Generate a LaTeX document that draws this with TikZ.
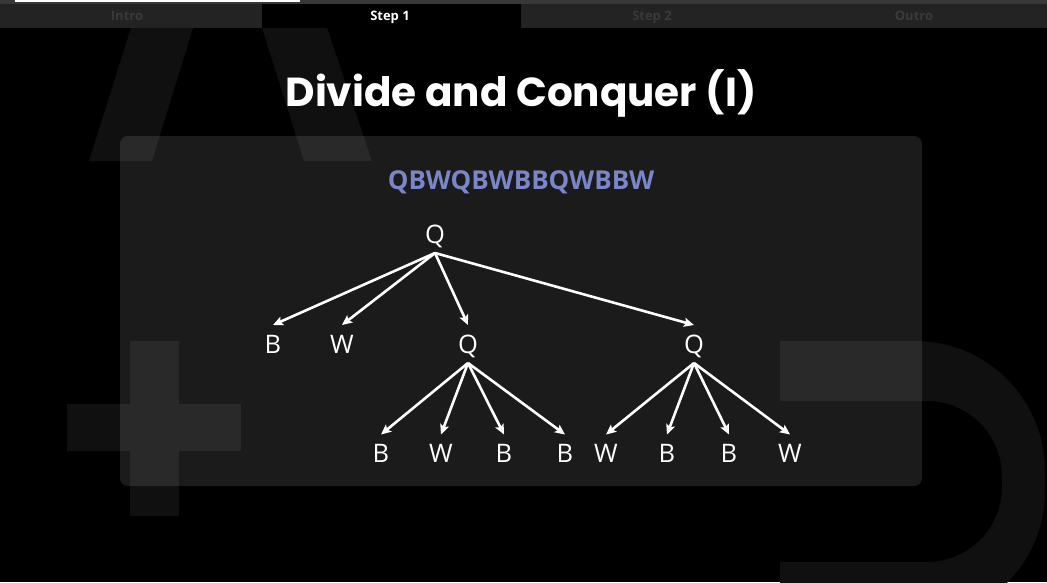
\documentclass[tikz,border=0pt]{standalone}
\usepackage{fontspec}
\setmainfont{Open Sans}
\newfontfamily\titlefont{Poppins}
\usetikzlibrary{arrows.meta}

\definecolor{glyphgray}{HTML}{101010}
\definecolor{tabgray}{HTML}{232323}
\definecolor{tabtext}{HTML}{3A3A3A}
\definecolor{lineGray}{HTML}{383838}
\definecolor{seqblue}{HTML}{7A86C8}

\tikzset{
  glyph/.style={fill=glyphgray, draw=none},
  tablabel/.style={anchor=base, font=\fontsize{13}{13}\selectfont\bfseries, text=tabtext},
  leaf/.style={font=\fontsize{25.5}{25.5}\selectfont, text=white, text height=18pt,
               text depth=0pt, inner sep=0pt, outer ysep=10pt},
  edge/.style={draw=white, line width=2.6pt,
               -{Stealth[length=10pt, width=9pt, inset=2pt]}},
}

\begin{document}
\begin{tikzpicture}[x=1pt, y=-1pt, every node/.style={inner sep=0pt}]
\useasboundingbox (0,0) rectangle (1047,582);
\fill[black] (0,0) rectangle (1047,582);

% faint backdrop letterforms
\fill[glyph] (131,28) -- (193,28) -- (152,161) -- (89,161) -- cycle;
\fill[glyph] (262,28) -- (327,28) -- (372,161) -- (304,161) -- cycle;
\fill[glyph] (130,341) rectangle (179,516);
\fill[glyph] (67,404) rectangle (130,451);
\fill[glyph] (179,404) rectangle (241,451);
\begin{scope}
  \clip (780,0) rectangle (1047,582);
  \fill[glyph, even odd rule]
    [rounded corners=130pt] (600,341) rectangle (1045,621)
    [rounded corners=75pt] (600,401) rectangle (1002,562);
\end{scope}

% translucent content panel
\fill[white, fill opacity=0.105, rounded corners=8pt] (120,136) rectangle (922,486);

% tab bar
\fill[tabgray] (0,4) rectangle (1047,28);
\fill[black] (262,4) rectangle (521,28);
\fill[lineGray] (0,0) rectangle (1047,3.5);
\fill[white] (15,0) rectangle (300,2);
\node[tablabel] (tab1) at (127,20.5) {Intro};
\node[tablabel, text=white] (tab2) at (390,20.5) {Step 1};
\node[tablabel] (tab3) at (652,20.5) {Step 2};
\node[tablabel] (tab4) at (914,20.5) {Outro};

% heading and input string
\node[anchor=base, text=white, font=\titlefont\bfseries\fontsize{40.5}{40.5}\selectfont]
  (title) at (521,106.5) {Divide and Conquer (I)};
\node[anchor=base, text=seqblue, font=\fontsize{26}{26}\selectfont\bfseries]
  (seq) at (521,189) {QBWQBWBBQWBBW};

% quadtree
\node[leaf] (q0) at (435,234) {Q};

\node[leaf] (b1) at (273,344) {B};
\node[leaf] (w1) at (342,344) {W};
\node[leaf] (q1) at (468,344) {Q};
\node[leaf] (q2) at (694,344) {Q};

\node[leaf] (b11) at (381,453.5) {B};
\node[leaf] (w12) at (441,453.5) {W};
\node[leaf] (b13) at (504,453.5) {B};
\node[leaf] (b14) at (565,453.5) {B};
\node[leaf] (w21) at (606,453.5) {W};
\node[leaf] (b22) at (667,453.5) {B};
\node[leaf] (b23) at (729,453.5) {B};
\node[leaf] (w24) at (790,453.5) {W};

\foreach \c in {b1,w1,q1,q2}
  \draw[edge] (q0.south) -- (\c.north);
\foreach \c in {b11,w12,b13,b14}
  \draw[edge] (q1.south) -- (\c.north);
\foreach \c in {w21,b22,b23,w24}
  \draw[edge] (q2.south) -- (\c.north);
\end{tikzpicture}
\end{document}
